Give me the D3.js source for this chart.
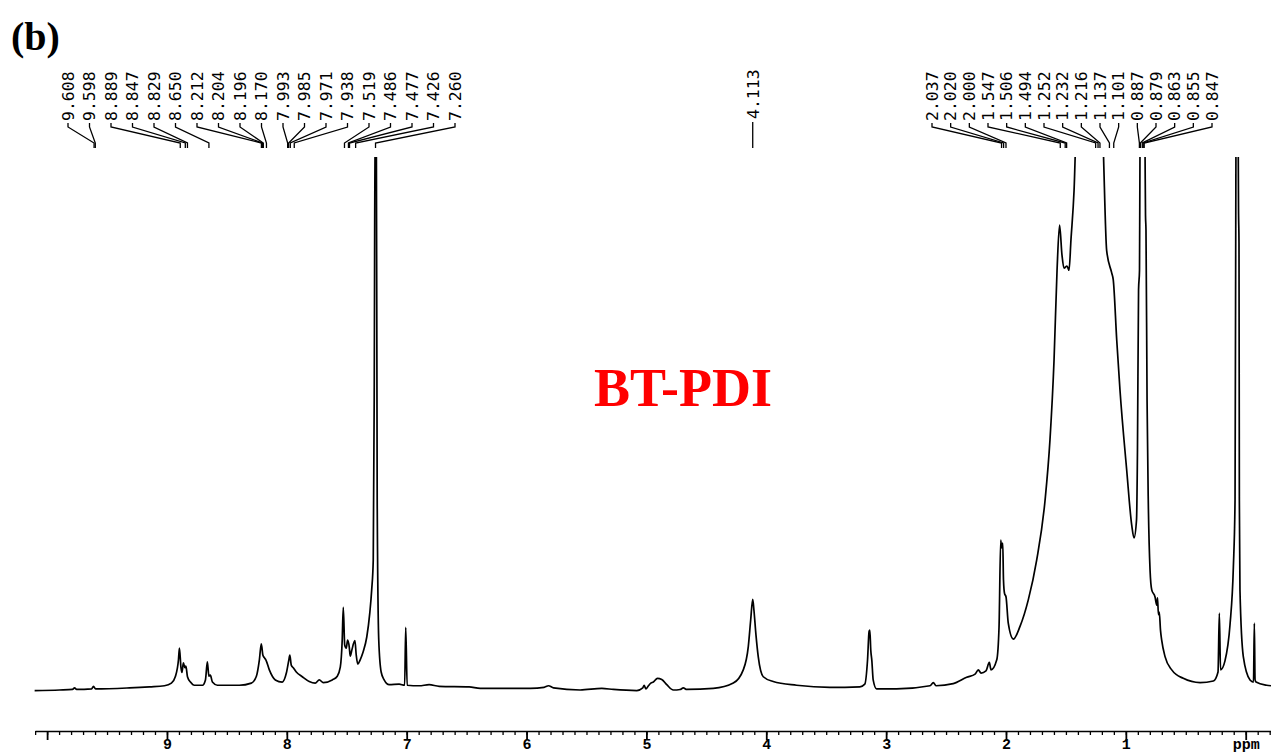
<!DOCTYPE html>
<html>
<head>
<meta charset="utf-8">
<script src="https://cdn.jsdelivr.net/npm/d3@7"></script>
<style>
  body { margin: 0; background: #fff; }
  svg { display: block; }
</style>
</head>
<body>
<svg id="chart"></svg>
<script>
// spectrum: [ppm, intensity], 100 = top of the plot window
const aromaticRegion = [
  [10.104, -0.1], [9.896, 0], [9.788, 0.1], [9.771, 0.4], [9.754, 0.1], [9.629, 0.2], [9.613, 0.7], [9.596, 0.2],
  [9.313, 0.4], [9.146, 0.6], [9.021, 0.8], [8.963, 1.3], [8.929, 2.6], [8.904, 5.7], [8.896, 7.9], [8.883, 4.2],
  [8.875, 3.3], [8.863, 5.1], [8.850, 4.2], [8.842, 4.5], [8.829, 2.5], [8.804, 1.5], [8.771, 0.9], [8.704, 0.9],
  [8.679, 1.9], [8.663, 5.3], [8.650, 2.6], [8.638, 2.8], [8.621, 1.5], [8.579, 0.9], [8.396, 0.9], [8.296, 1.3],
  [8.254, 2.6], [8.229, 5.7], [8.213, 8.7], [8.200, 6.6], [8.188, 6.1], [8.175, 5.7], [8.146, 3.8], [8.096, 1.9],
  [8.038, 1.5], [8.004, 3.2], [7.983, 5.7], [7.975, 6.6], [7.963, 4.7], [7.946, 4.2], [7.921, 3.4], [7.871, 2.5],
  [7.813, 1.6], [7.763, 1.3], [7.729, 1.9], [7.696, 1.4], [7.621, 1.9], [7.579, 2.6], [7.554, 4.3], [7.538, 9.4],
  [7.529, 15.6], [7.517, 8.5], [7.504, 7.9], [7.493, 9.4], [7.479, 8.1], [7.471, 6.4], [7.458, 7.5], [7.432, 9.3],
  [7.421, 6.6], [7.408, 4.9], [7.388, 5.7], [7.363, 7.2], [7.333, 10.0], [7.308, 14.5], [7.292, 18.9], [7.279, 24.5],
  [7.271, 54.7], [7.263, 111], [7.254, 111], [7.246, 35.8], [7.233, 9.4], [7.213, 3.4], [7.188, 1.9], [7.146, 1.0],
  [7.063, 1.1], [7.017, 0.9], [7.008, 11.8], [6.996, 0.9], [6.896, 0.8], [6.813, 1.0], [6.729, 0.7], [6.479, 0.6]
];

const middleRegion = [
  [6.386, 0.3], [5.969, 0.3], [5.854, 0.5], [5.817, 0.8], [5.775, 0.4], [5.553, 0], [5.372, 0.3], [5.275, 0.1],
  [5.080, -0.1], [5.030, 0.4], [5.019, 0.9], [5.005, 0.2], [4.983, 0.8], [4.963, 1.3], [4.942, 1.5], [4.908, 2.2],
  [4.872, 2.0], [4.830, 1.0], [4.775, 0], [4.719, 0.1], [4.692, 0.4], [4.663, 0.1], [4.442, 0.3], [4.275, 1.3],
  [4.192, 3.8], [4.150, 8.2], [4.130, 13.2], [4.113, 17.1], [4.103, 15.1], [4.086, 10.4], [4.067, 6.3], [4.025, 2.5],
  [3.942, 1.6], [3.747, 0.9], [3.469, 0.5], [3.219, 0.6], [3.178, 1.1], [3.155, 5.7], [3.142, 11.1], [3.136, 11.3],
  [3.128, 7.5], [3.119, 5.5], [3.108, 1.9], [3.080, 0.2], [2.913, 0.2]
];

const aliphaticRegion = [
  [2.634, 0.8], [2.606, 1.4], [2.584, 0.8], [2.440, 1.2], [2.328, 2.4], [2.258, 3.0], [2.231, 3.8], [2.208, 3.2],
  [2.167, 3.6], [2.139, 5.2], [2.125, 3.8], [2.077, 5.7], [2.058, 11.9], [2.044, 28.3], [2.036, 26.8], [2.027, 27.7],
  [2.021, 20.8], [2.012, 18.2], [2.000, 17.6], [1.981, 12.6], [1.939, 9.6], [1.883, 12.0], [1.814, 17.0], [1.744, 24.5],
  [1.674, 35.8], [1.633, 47.2], [1.599, 62.3], [1.574, 79.2], [1.553, 87.7], [1.533, 82.1], [1.516, 79.6], [1.491, 80.0],
  [1.474, 79.2], [1.458, 84.9], [1.432, 94.3], [1.407, 111], [1.341, 121], [1.258, 121], [1.199, 111], [1.186, 100.6],
  [1.160, 82.9], [1.118, 78.7], [1.105, 77.4], [1.076, 66.0], [1.049, 56.6], [0.993, 41.5], [0.951, 31.1], [0.932, 28.7],
  [0.911, 32.1], [0.903, 45.3], [0.894, 75.5], [0.886, 79.2], [0.882, 101.9], [0.874, 115], [0.849, 115], [0.840, 101.9],
  [0.836, 89.6], [0.832, 86.8], [0.823, 54.7], [0.813, 35.8], [0.798, 22.6], [0.784, 18.9], [0.757, 17.6], [0.742, 16.0],
  [0.736, 17.4], [0.728, 14.2], [0.721, 14.7], [0.711, 11.3], [0.701, 9.4], [0.673, 6.3], [0.617, 3.8], [0.521, 2.2],
  [0.381, 1.4], [0.270, 1.7], [0.231, 3.4], [0.220, 14.5], [0.210, 3.8], [0.173, 5.5], [0.131, 12.3], [0.103, 23.2],
  [0.089, 35.8], [0.081, 107], [0.077, 120], [0.068, 120], [0.062, 100.6], [0.060, 91.1], [0.056, 84.3], [0.053, 35.8],
  [0.048, 18.9], [0.020, 6.3], [-0.036, 1.9], [-0.065, 1.5], [-0.072, 12.6], [-0.078, 1.9], [-0.086, 1.5], [-0.175, 0.9],
  [-0.211, 0.8]
];

// peak picking labels
const aromaticPeaks = [9.608, 9.598, 8.889, 8.847, 8.829, 8.650, 8.212, 8.204, 8.196, 8.170,
  7.993, 7.985, 7.971, 7.938, 7.519, 7.486, 7.477, 7.426, 7.260];
const middlePeaks = [4.113];
const aliphaticPeaks = [2.037, 2.020, 2.000, 1.547, 1.506, 1.494, 1.252, 1.232, 1.216, 1.137,
  1.101, 0.887, 0.879, 0.863, 0.855, 0.847];

// axis
const majorTicks = [10, 9, 8, 7, 6, 5, 4, 3, 2, 1, 0];
const majorTickLabels = ['', '9', '8', '7', '6', '5', '4', '3', '2', '1', 'ppm'];
const sampleName = 'BT-PDI';
const panelLabel = '(b)';

const width = 1271, height = 755;

const svg = d3.select('#chart')
  .attr('width', width)
  .attr('height', height);

svg.append('rect').attr('width', width).attr('height', height).attr('fill', '#fff');

const x = d3.scaleLinear().domain([10.101, -0.211]).range([35, 1271]);
const y = d3.scaleLinear().domain([0, 100]).range([690, 160]);

// clip tall peaks at the top of the window
svg.append('clipPath').attr('id', 'plot-clip')
  .append('rect')
  .attr('x', 0).attr('y', 157)
  .attr('width', width).attr('height', 560);

const spectrum = [...aromaticRegion, ...middleRegion, ...aliphaticRegion];

const line = d3.line()
  .x(d => x(d[0]))
  .y(d => y(d[1]))
  .curve(d3.curveMonotoneX);

svg.append('path')
  .datum(spectrum)
  .attr('clip-path', 'url(#plot-clip)')
  .attr('fill', 'none')
  .attr('stroke', '#000')
  .attr('stroke-width', 1.7)
  .attr('stroke-linejoin', 'round')
  .attr('d', line);

// x axis: major + minor ticks
const axisY = 731;

const minor = svg.append('g')
  .attr('transform', `translate(0,${axisY})`)
  .call(d3.axisBottom(x)
    .tickValues(d3.range(-2, 102).map(i => i / 10))
    .tickSize(4)
    .tickSizeOuter(0)
    .tickFormat(''));
minor.select('.domain').remove();
minor.selectAll('line').attr('stroke-width', 1.3);

const major = svg.append('g')
  .attr('transform', `translate(0,${axisY})`)
  .call(d3.axisBottom(x)
    .tickValues(majorTicks)
    .tickSize(9)
    .tickSizeOuter(0)
    .tickPadding(0)
    .tickFormat((d, i) => majorTickLabels[i]));
major.select('.domain').attr('stroke-width', 1.6);
major.selectAll('line').attr('stroke-width', 1.8);
major.selectAll('text')
  .attr('dy', '0.6em')
  .style('font-family', '"Liberation Mono", "DejaVu Sans Mono", monospace')
  .style('font-weight', 'bold')
  .style('font-size', '15px')
  .attr('fill', '#000');

// peak labels with connector lines
const labelFont = '"DejaVu Sans Mono", monospace';

function drawPeakGroup(peaks, xStart, xEnd) {
  const pos = d3.scalePoint().domain(d3.range(peaks.length)).range([xStart, xEnd]);
  const g = svg.append('g');
  peaks.forEach((p, i) => {
    const lx = pos(i);
    const px = x(p);
    g.append('text')
      .attr('transform', `translate(${lx},121) rotate(-90)`)
      .attr('dy', '0.35em')
      .style('font-family', labelFont)
      .style('font-size', '16.5px')
      .attr('fill', '#000')
      .text(p.toFixed(3));
    g.append('path')
      .attr('d', `M${lx},123V127L${px},143V148`)
      .attr('fill', 'none')
      .attr('stroke', '#000')
      .attr('stroke-width', 1.3);
  });
}

drawPeakGroup(aromaticPeaks, 68, 455);
drawPeakGroup(aliphaticPeaks, 932, 1212);

middlePeaks.forEach(p => {
  svg.append('text')
    .attr('transform', `translate(${x(p)},119) rotate(-90)`)
    .attr('dy', '0.35em')
    .style('font-family', labelFont)
    .style('font-size', '16.5px')
    .attr('fill', '#000')
    .text(p.toFixed(3));
  svg.append('line')
    .attr('x1', x(p)).attr('x2', x(p))
    .attr('y1', 122).attr('y2', 148)
    .attr('stroke', '#000')
    .attr('stroke-width', 1.3);
});

// sample name and panel label
svg.append('text')
  .attr('x', 683)
  .attr('y', 406)
  .attr('text-anchor', 'middle')
  .style('font-family', '"Liberation Serif", "Times New Roman", serif')
  .style('font-weight', 'bold')
  .style('font-size', '54px')
  .attr('fill', '#ff0000')
  .text(sampleName);

svg.append('text')
  .attr('x', 11)
  .attr('y', 50)
  .style('font-family', '"Liberation Serif", "Times New Roman", serif')
  .style('font-weight', 'bold')
  .style('font-size', '40px')
  .attr('fill', '#000')
  .text(panelLabel);
</script>
</body>
</html>
